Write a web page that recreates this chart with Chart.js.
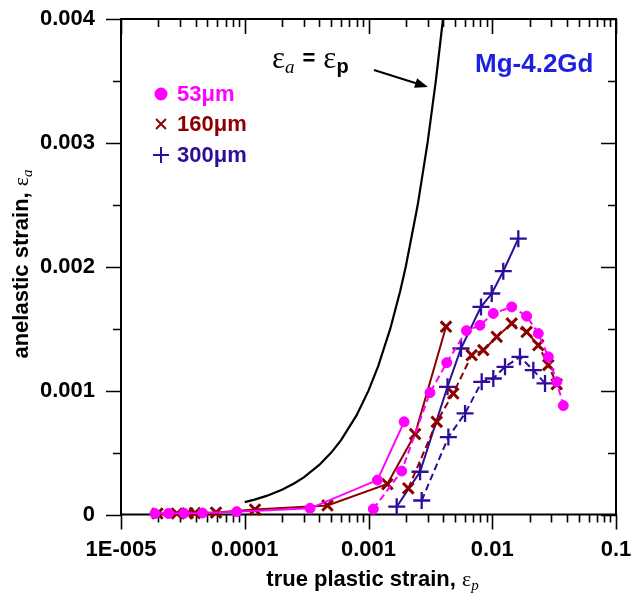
<!DOCTYPE html>
<html><head><meta charset="utf-8">
<script src="https://cdn.jsdelivr.net/npm/chart.js@4/dist/chart.umd.min.js"></script>
<style>html,body{margin:0;padding:0;background:#fff}#wrap{width:641px;height:600px}</style>
</head><body><div id="wrap"><canvas id="c" width="641" height="600"></canvas></div>
<script>
// ---------- data ----------
const xTickValues = [1e-5, 1e-4, 1e-3, 1e-2, 1e-1];
const xTickLabels = ['1E-005', '0.0001', '0.001', '0.01', '0.1'];
const yTickValues = [0, 0.001, 0.002, 0.003, 0.004];
const yTickLabels = ['0', '0.001', '0.002', '0.003', '0.004'];
const seriesNames = ['53\u03BCm', '160\u03BCm', '300\u03BCm'];

// eps_a = eps_p reference line
const eqX = [0.0001, 0.00012, 0.00015, 0.0002, 0.00025, 0.0003, 0.0004, 0.0005, 0.0006, 0.0008, 0.001, 0.0012, 0.0015, 0.0018, 0.002, 0.0025, 0.003, 0.0035, 0.004];
const eqY = [0.0001, 0.00012, 0.00015, 0.0002, 0.00025, 0.0003, 0.0004, 0.0005, 0.0006, 0.0008, 0.001, 0.0012, 0.0015, 0.0018, 0.002, 0.0025, 0.003, 0.0035, 0.004];

// 53 um
const g53SolidX = [1.88e-5, 2.42e-5, 3.23e-5, 4.56e-5, 8.61e-5, 3.37e-4, 1.18e-3, 1.94e-3];
const g53SolidY = [8e-6, 8e-6, 1e-5, 1.2e-5, 2.3e-5, 5e-5, 2.78e-4, 7.48e-4];
const g53DashX = [1.094e-3, 1.855e-3, 3.14e-3, 4.29e-3, 6.19e-3, 7.96e-3, 1.02e-2, 1.436e-2, 1.897e-2, 2.355e-2, 2.838e-2, 3.32e-2, 3.75e-2];
const g53DashY = [4.4e-5, 3.51e-4, 9.84e-4, 1.226e-3, 1.484e-3, 1.528e-3, 1.623e-3, 1.676e-3, 1.601e-3, 1.461e-3, 1.273e-3, 1.071e-3, 8.79e-4];

// 160 um
const g160SolidX = [1.97e-5, 2.83e-5, 3.45e-5, 3.96e-5, 5.86e-5, 1.21e-4, 4.66e-4, 1.42e-3, 2.38e-3, 4.23e-3];
const g160SolidY = [8e-6, 8e-6, 1e-5, 1.2e-5, 1.6e-5, 4e-5, 7.3e-5, 2.46e-4, 6.49e-4, 1.516e-3];
const g160DashX = [2.097e-3, 3.56e-3, 4.84e-3, 6.82e-3, 8.47e-3, 1.087e-2, 1.436e-2, 1.897e-2, 2.355e-2, 2.838e-2, 3.32e-2];
const g160DashY = [2.11e-4, 7.48e-4, 9.77e-4, 1.286e-3, 1.327e-3, 1.434e-3, 1.542e-3, 1.474e-3, 1.367e-3, 1.206e-3, 1.052e-3];

// 300 um
const g300SolidX = [1.69e-3, 2.61e-3, 4.35e-3, 5.59e-3, 8.11e-3, 9.9e-3, 1.228e-2, 1.624e-2];
const g300SolidY = [6.3e-5, 3.45e-4, 1.031e-3, 1.34e-3, 1.676e-3, 1.784e-3, 1.964e-3, 2.227e-3];
const g300DashX = [2.69e-3, 4.42e-3, 6.03e-3, 8.22e-3, 1.02e-2, 1.268e-2, 1.675e-2, 2.147e-2, 2.67e-2];
const g300DashY = [1.13e-4, 6.25e-4, 8.16e-4, 1.071e-3, 1.098e-3, 1.192e-3, 1.273e-3, 1.165e-3, 1.058e-3];

// ---------- styles ----------
const C53 = '#ff00ff', C160 = '#8b0000', C300 = '#2e0d99', CMG = '#1f1fe0';
const SANS = '"Liberation Sans", Arial, sans-serif';
const SERIF = '"Liberation Serif", "DejaVu Serif", serif';

const pts = (xs, ys) => xs.map((x, i) => ({x: x, y: ys[i]}));

function series(xs, ys, color, style, radius, bw, dashed) {
  return {
    data: pts(xs, ys), showLine: true, borderColor: color, backgroundColor: color,
    borderWidth: 2, borderDash: dashed ? [7, 4] : [],
    pointStyle: style, pointRadius: radius, pointBorderWidth: bw,
    pointBorderColor: color, pointBackgroundColor: color, clip: false, tension: 0
  };
}

const datasets = [
  series(g53SolidX, g53SolidY, C53, 'circle', 5, 1, false),
  series(g53DashX, g53DashY, C53, 'circle', 5, 1, true),
  series(g160SolidX, g160SolidY, C160, 'crossRot', 7.5, 3, false),
  series(g160DashX, g160DashY, C160, 'crossRot', 7.5, 3, true),
  series(g300SolidX, g300SolidY, C300, 'cross', 8.5, 2.3, false),
  series(g300DashX, g300DashY, C300, 'cross', 8.5, 2.3, true),
  {data: pts(eqX, eqY), showLine: true, borderColor: '#000', borderWidth: 2.2, pointRadius: 0, clip: false, tension: 0}
];

function drawRich(ctx, parts, x, y, align) {
  let total = 0;
  parts.forEach(p => { ctx.font = p.font; total += ctx.measureText(p.t).width + (p.gap || 0); });
  let cx = align === 'center' ? x - total / 2 : x;
  parts.forEach(p => {
    ctx.font = p.font; ctx.fillStyle = p.color || '#000';
    ctx.fillText(p.t, cx, y + (p.dy || 0));
    cx += ctx.measureText(p.t).width + (p.gap || 0);
  });
}

const framePlugin = {
  id: 'frame',
  beforeDatasetsDraw(chart) {
    const ctx = chart.ctx, a = chart.chartArea;
    const xs = chart.scales.x, ys = chart.scales.y;
    ctx.save();
    ctx.strokeStyle = '#000'; ctx.lineWidth = 2;
    ctx.strokeRect(a.left, a.top, a.right - a.left, a.bottom - a.top);
    ctx.lineWidth = 1.6;
    const MAJ = 15, MIN = 8;
    ctx.beginPath();
    for (let d = -5; d <= -1; d++) {
      for (let m = 1; m <= 9; m++) {
        const v = m * Math.pow(10, d);
        const px = Math.round(xs.getPixelForValue(v)) + 0.5;
        const L = m === 1 ? MAJ : MIN;
        ctx.moveTo(px, a.bottom); ctx.lineTo(px, a.bottom + L);
        ctx.moveTo(px, a.top); ctx.lineTo(px, a.top + L);
        if (d === -1) break;
      }
    }
    for (let i = 0; i <= 8; i++) {
      const v = i * 0.0005;
      const py = Math.round(ys.getPixelForValue(v)) + 0.5;
      const L = i % 2 === 0 ? MAJ : MIN;
      ctx.moveTo(a.left - L, py); ctx.lineTo(a.left, py);
      ctx.moveTo(a.right - L, py); ctx.lineTo(a.right, py);
    }
    ctx.stroke();
    ctx.restore();
  },
  afterDraw(chart) {
    const ctx = chart.ctx, a = chart.chartArea;
    ctx.save();
    ctx.textBaseline = 'alphabetic';
    // x title
    drawRich(ctx, [
      {t: 'true plastic strain, ', font: 'bold 22px ' + SANS},
      {t: '\u03B5', font: '22px ' + SERIF},
      {t: 'p', font: 'italic 15px ' + SERIF, dy: 4}
    ], (a.left + a.right) / 2 + 4, 586, 'center');
    // y title
    ctx.save();
    ctx.translate(28, 264);
    ctx.rotate(-Math.PI / 2);
    drawRich(ctx, [
      {t: 'anelastic strain, ', font: 'bold 22px ' + SANS},
      {t: '\u03B5', font: '22px ' + SERIF},
      {t: 'a', font: 'italic 15px ' + SERIF, dy: 4}
    ], 0, 0, 'center');
    ctx.restore();

    // eps_a = eps_p annotation
    drawRich(ctx, [
      {t: '\u03B5', font: '31px ' + SERIF},
      {t: 'a', font: 'italic 19px ' + SERIF, dy: 5, gap: 8},
      {t: '=', font: 'bold 22px ' + SANS, dy: -3, gap: 8},
      {t: '\u03B5', font: '31px ' + SERIF},
      {t: 'p', font: 'bold 20px ' + SANS, dy: 5}
    ], 272, 68, 'left');
    // arrow
    ctx.strokeStyle = '#000'; ctx.fillStyle = '#000'; ctx.lineWidth = 2;
    const x1 = 374, y1 = 70, x2 = 428, y2 = 87;
    ctx.beginPath(); ctx.moveTo(x1, y1); ctx.lineTo(x2 - 8, y2 - 2.5); ctx.stroke();
    const ang = Math.atan2(y2 - y1, x2 - x1);
    ctx.beginPath();
    ctx.moveTo(x2, y2);
    ctx.lineTo(x2 - 13 * Math.cos(ang) + 5 * Math.sin(ang), y2 - 13 * Math.sin(ang) - 5 * Math.cos(ang));
    ctx.lineTo(x2 - 13 * Math.cos(ang) - 5 * Math.sin(ang), y2 - 13 * Math.sin(ang) + 5 * Math.cos(ang));
    ctx.closePath(); ctx.fill();

    // Mg-4.2Gd
    ctx.font = 'bold 26px ' + SANS; ctx.fillStyle = CMG; ctx.textAlign = 'left';
    ctx.fillText('Mg-4.2Gd', 475, 72);

    // legend
    const leg = [
      {c: C53, s: 'circle', r: 5.5, bw: 1, y: 94},
      {c: C160, s: 'crossRot', r: 7, bw: 3, y: 124},
      {c: C300, s: 'cross', r: 8, bw: 3, y: 155}
    ];
    leg.forEach((L, i) => {
      ctx.strokeStyle = L.c; ctx.fillStyle = L.c;
      Chart.helpers.drawPoint(ctx, {pointStyle: L.s, radius: L.r, borderWidth: L.bw, rotation: 0}, 161, L.y);
      ctx.fillStyle = L.c; ctx.font = 'bold 22px ' + SANS; ctx.textBaseline = 'middle';
      ctx.fillText(seriesNames[i], 177, L.y + 1);
    });
    ctx.restore();
  }
};

new Chart(document.getElementById('c'), {
  type: 'scatter',
  data: {datasets: datasets},
  options: {
    responsive: false, animation: false, devicePixelRatio: 1,
    layout: {autoPadding: false, padding: {top: 19, right: 25, left: 0, bottom: 0}},
    plugins: {legend: {display: false}, tooltip: {enabled: false}},
    scales: {
      x: {
        type: 'logarithmic', min: 1e-5, max: 0.1,
        grid: {display: false, drawTicks: false}, border: {display: false},
        afterFit: s => { s.height = 85.5; s.paddingLeft = 0; s.paddingRight = 0; },
        afterBuildTicks: s => { s.ticks = xTickValues.map(v => ({value: v})); },
        ticks: {
          autoSkip: false, maxRotation: 0, padding: 22, color: '#000',
          font: {family: SANS, size: 22, weight: 'bold'},
          callback: (v) => { const i = xTickValues.findIndex(t => Math.abs(t - v) / t < 1e-6); return i >= 0 ? xTickLabels[i] : ''; }
        }
      },
      y: {
        min: 0, max: 0.004,
        grid: {display: false, drawTicks: false}, border: {display: false},
        afterFit: s => { s.width = 121; s.paddingTop = 0; s.paddingBottom = 0; },
        afterBuildTicks: s => { s.ticks = yTickValues.map(v => ({value: v})); },
        ticks: {
          padding: 26, color: '#000',
          font: {family: SANS, size: 22, weight: 'bold'},
          callback: (v) => { const i = yTickValues.findIndex(t => Math.abs(t - v) < 1e-9); return i >= 0 ? yTickLabels[i] : ''; }
        }
      }
    }
  },
  plugins: [framePlugin]
});
</script></body></html>
